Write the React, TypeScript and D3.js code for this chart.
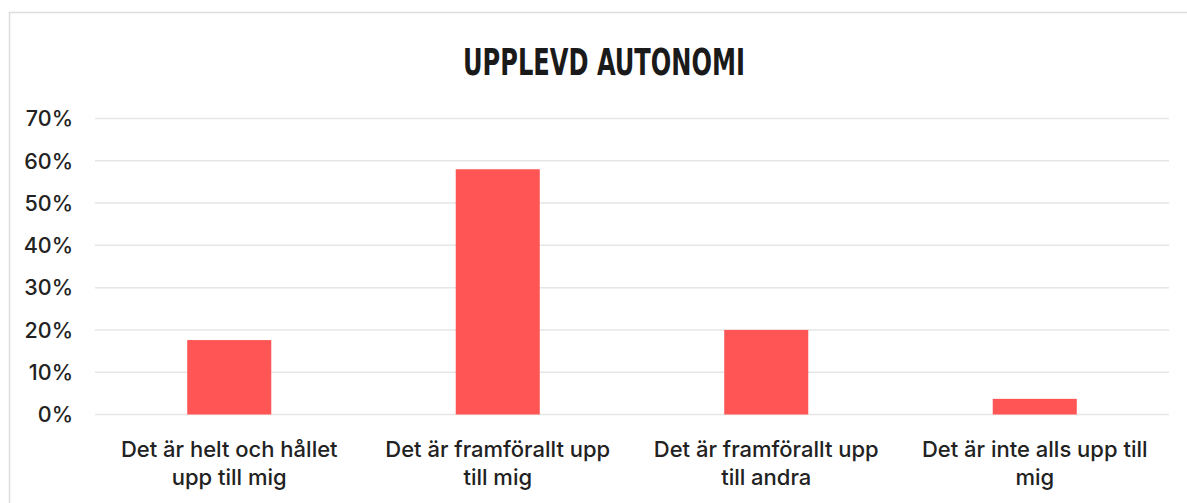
import React, { useRef, useEffect } from "react";
import * as d3 from "d3";

const title = "UPPLEVD AUTONOMI";
const categories = [
  "Det är helt och hållet upp till mig",
  "Det är framförallt upp till mig",
  "Det är framförallt upp till andra",
  "Det är inte alls upp till mig",
];
const values = [17.6, 58, 20, 3.7];
const yTicks = [0, 10, 20, 30, 40, 50, 60, 70];

const W = 1187;
const H = 503;
const margin = { top: 118.5, right: 18, bottom: 88.5, left: 95 };
const textFont = "Inter, 'Noto Sans', sans-serif";
const barColor = "#ff5555";

const App = () => {
  const svgRef = useRef<SVGSVGElement>(null);

  const x = d3
    .scaleBand<string>()
    .domain(categories)
    .range([margin.left, W - margin.right])
    .paddingInner(0)
    .paddingOuter(0);

  const y = d3
    .scaleLinear()
    .domain([0, 70])
    .range([H - margin.bottom, margin.top]);

  const barW = x.bandwidth() * 0.313;

  useEffect(() => {
    const svg = d3.select(svgRef.current);
    svg.selectAll(".content").remove();
    const g = svg.append("g").attr("class", "content");

    // gridlines
    g.selectAll(".grid")
      .data(yTicks)
      .enter()
      .append("line")
      .attr("x1", margin.left)
      .attr("x2", W - margin.right)
      .attr("y1", (d) => y(d))
      .attr("y2", (d) => y(d))
      .attr("stroke", "#e6e6e6")
      .attr("stroke-width", 1.5);

    // y tick labels
    g.selectAll(".ytick")
      .data(yTicks)
      .enter()
      .append("text")
      .attr("x", 73)
      .attr("y", (d) => y(d))
      .attr("dy", "0.36em")
      .attr("text-anchor", "end")
      .attr("font-family", textFont)
      .attr("font-size", 21.5)
      .attr("font-weight", 500)
      .attr("fill", "#222")
      .text((d) => `${d}%`);

    // bars
    g.selectAll(".bar")
      .data(values)
      .enter()
      .append("rect")
      .attr("x", (_, i) => x(categories[i])! + x.bandwidth() / 2 - barW / 2)
      .attr("y", (d) => y(d))
      .attr("width", barW)
      .attr("height", (d) => y(0) - y(d))
      .attr("fill", barColor);

    // x labels, wrapped
    const maxW = 244;
    categories.forEach((cat) => {
      const cx = x(cat)! + x.bandwidth() / 2;
      const t = g
        .append("text")
        .attr("text-anchor", "middle")
        .attr("font-family", textFont)
        .attr("font-size", 22)
        .attr("font-weight", 500)
        .attr("fill", "#222");
      const words = cat.split(" ");
      let line: string[] = [];
      let lineNo = 0;
      let tspan = t.append("tspan").attr("x", cx).attr("y", 457);
      for (const w of words) {
        line.push(w);
        tspan.text(line.join(" "));
        if ((tspan.node() as SVGTSpanElement).getComputedTextLength() > maxW && line.length > 1) {
          line.pop();
          tspan.text(line.join(" "));
          line = [w];
          lineNo += 1;
          tspan = t
            .append("tspan")
            .attr("x", cx)
            .attr("y", 457 + lineNo * 28)
            .text(w);
        }
      }
    });
  }, []);

  return (
    <div style={{ position: "fixed", left: 0, top: 0, width: W, height: H, background: "#fff" }}>
      <svg ref={svgRef} width={W} height={H} xmlns="http://www.w3.org/2000/svg">
        <rect x={0} y={0} width={W} height={H} fill="#fff" />
        <path
          d={`M9.5,${H + 2} V12.5 H${W + 2}`}
          fill="none"
          stroke="#dcdcdc"
          strokeWidth={1.5}
        />
        <text
          x={604}
          y={75}
          textAnchor="middle"
          fontFamily="'DejaVu Sans Condensed', 'Liberation Sans Narrow', sans-serif"
          fontWeight={700}
          fontSize={38}
          fill="#1a1a1a"
          textLength={282}
          lengthAdjust="spacingAndGlyphs"
        >
          {title}
        </text>
      </svg>
    </div>
  );
};

export default App;
